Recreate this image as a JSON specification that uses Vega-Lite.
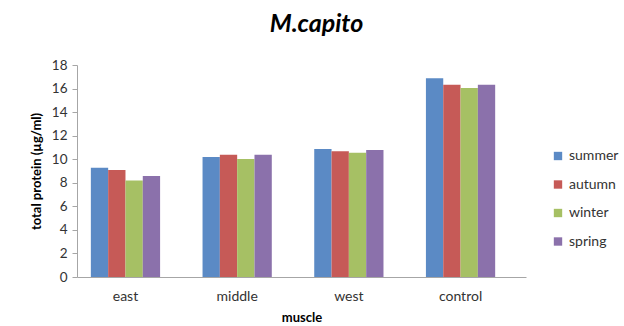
{
  "$schema": "https://vega.github.io/schema/vega-lite/v6.json",
  "autosize": {"type": "none"},
  "width": 449,
  "height": 212,
  "padding": {"left": 77, "top": 65, "right": 98, "bottom": 49},
  "background": "white",
  "title": {
    "text": "M.capito",
    "font": "Lato",
    "fontSize": 25,
    "fontWeight": "bold",
    "fontStyle": "italic",
    "color": "#000000",
    "anchor": "middle",
    "dx": 15,
    "offset": 21
  },
  "data": {
    "values": [
      {"muscle": "east", "season": "summer", "protein": 9.28},
      {"muscle": "east", "season": "autumn", "protein": 9.08},
      {"muscle": "east", "season": "winter", "protein": 8.2},
      {"muscle": "east", "season": "spring", "protein": 8.57},
      {"muscle": "middle", "season": "summer", "protein": 10.19},
      {"muscle": "middle", "season": "autumn", "protein": 10.38},
      {"muscle": "middle", "season": "winter", "protein": 10.02},
      {"muscle": "middle", "season": "spring", "protein": 10.38},
      {"muscle": "west", "season": "summer", "protein": 10.87},
      {"muscle": "west", "season": "autumn", "protein": 10.67},
      {"muscle": "west", "season": "winter", "protein": 10.55},
      {"muscle": "west", "season": "spring", "protein": 10.78},
      {"muscle": "control", "season": "summer", "protein": 16.87},
      {"muscle": "control", "season": "autumn", "protein": 16.33},
      {"muscle": "control", "season": "winter", "protein": 16.04},
      {"muscle": "control", "season": "spring", "protein": 16.33}
    ]
  },
  "mark": {"type": "bar"},
  "encoding": {
    "x": {
      "field": "muscle",
      "type": "nominal",
      "sort": ["east", "middle", "west", "control"],
      "scale": {"paddingInner": 0.38, "paddingOuter": 0.2, "align": 0.31},
      "axis": {
        "title": "muscle",
        "labelAngle": 0,
        "ticks": false,
        "labelPadding": 12,
        "labelFontSize": 14,
        "titleFontSize": 13,
        "titlePadding": 8
      }
    },
    "xOffset": {
      "field": "season",
      "type": "nominal",
      "sort": ["summer", "autumn", "winter", "spring"],
      "scale": {"paddingInner": 0, "paddingOuter": 0}
    },
    "y": {
      "field": "protein",
      "type": "quantitative",
      "scale": {"domain": [0, 18], "nice": false},
      "axis": {
        "title": "total protein (µg/ml)",
        "values": [0, 2, 4, 6, 8, 10, 12, 14, 16, 18],
        "grid": false,
        "tickSize": 5,
        "labelPadding": 5,
        "labelFontSize": 13.5,
        "titleFontSize": 13,
        "titlePadding": 8
      }
    },
    "color": {
      "field": "season",
      "type": "nominal",
      "sort": ["summer", "autumn", "winter", "spring"],
      "scale": {
        "domain": ["summer", "autumn", "winter", "spring"],
        "range": ["#5B8AC5", "#C65A57", "#A6C064", "#8B71AB"]
      },
      "legend": {
        "title": null,
        "orient": "none",
        "legendX": 474,
        "legendY": 84,
        "symbolType": "square",
        "symbolSize": 70,
        "symbolStrokeWidth": 0,
        "labelFontSize": 14,
        "labelOffset": 4,
        "rowPadding": 14.5
      }
    }
  },
  "config": {
    "font": "Lato",
    "view": {"stroke": null},
    "axis": {
      "domainColor": "#a6a6a6",
      "tickColor": "#a6a6a6",
      "labelColor": "#333333",
      "titleColor": "#000000",
      "titleFontWeight": "bold",
      "labelFont": "Lato",
      "titleFont": "Lato"
    },
    "legend": {"labelColor": "#333333", "labelFont": "Lato"}
  }
}
